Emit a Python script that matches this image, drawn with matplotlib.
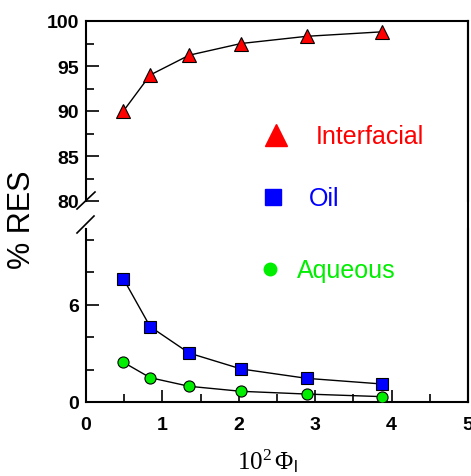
import matplotlib
matplotlib.use("Agg")
import matplotlib.pyplot as plt
from matplotlib.lines import Line2D
from matplotlib.ticker import MultipleLocator

# ---- data ----
phi = [0.49, 0.84, 1.35, 2.03, 2.89, 3.88]
interfacial = [90.0, 94.0, 96.2, 97.5, 98.3, 98.8]
oil = [7.6, 4.65, 3.02, 2.04, 1.46, 1.11]
aqueous = [2.45, 1.5, 0.97, 0.66, 0.49, 0.33]
legend_labels = ["Interfacial", "Oil", "Aqueous"]
colors = ["#ff0000", "#0000ff", "#00ee00"]

plt.rcParams['font.family'] = ['Liberation Sans', 'DejaVu Sans']
plt.rcParams['mathtext.fontset'] = 'custom'
plt.rcParams['mathtext.rm'] = 'Liberation Serif'
plt.rcParams['mathtext.it'] = 'Liberation Serif:italic'
plt.rcParams['mathtext.sf'] = 'Liberation Sans'

W, H = 471, 477
fig = plt.figure(figsize=(W / 100, H / 100), dpi=100)

def fx(px):
    return px / W

def fy(py):
    return 1 - py / H

left, right = 86, 468
top_t, top_b = 22, 202
bot_t, bot_b = 230, 403

ax_top = fig.add_axes([fx(left), fy(top_b), fx(right - left), (top_b - top_t) / H])
ax_bot = fig.add_axes([fx(left), fy(bot_b), fx(right - left), (bot_b - bot_t) / H])

lw_spine = 1.5
for ax in (ax_top, ax_bot):
    for s in ax.spines.values():
        s.set_linewidth(lw_spine)
    ax.set_xlim(0, 5)

TL = 14

# top panel
ax_top.plot(phi, interfacial, color='black', lw=1.0, marker='^', ms=10.5,
            mfc=colors[0], mec='black', mew=0.8, zorder=3)
ax_top.set_ylim(80, 100)
ax_top.spines['bottom'].set_visible(False)
ax_top.yaxis.set_major_locator(MultipleLocator(5))
ax_top.yaxis.set_minor_locator(MultipleLocator(2.5))
ax_top.tick_params(axis='y', which='major', direction='in', length=9, width=1.2,
                   labelsize=TL, pad=5, right=False)
ax_top.tick_params(axis='y', which='minor', direction='in', length=6, width=1.2, right=False)
ax_top.tick_params(axis='x', which='both', bottom=False, top=False, labelbottom=False)
for lab in ax_top.get_yticklabels():
    lab.set_fontweight('bold')

# bottom panel
ax_bot.plot(phi, oil, color='black', lw=1.0, marker='s', ms=8.5,
            mfc=colors[1], mec='black', mew=0.8, zorder=3)
ax_bot.plot(phi, aqueous, color='black', lw=1.0, marker='o', ms=8,
            mfc=colors[2], mec='black', mew=0.8, zorder=3)
ax_bot.set_ylim(0, 10.68)
ax_bot.spines['top'].set_visible(False)
ax_bot.yaxis.set_major_locator(MultipleLocator(6))
ax_bot.yaxis.set_minor_locator(MultipleLocator(2))
ax_bot.xaxis.set_major_locator(MultipleLocator(1))
ax_bot.xaxis.set_minor_locator(MultipleLocator(0.5))
ax_bot.tick_params(axis='y', which='major', direction='in', length=9, width=1.2,
                   labelsize=TL, pad=5, right=False)
ax_bot.tick_params(axis='y', which='minor', direction='in', length=6, width=1.2, right=False)
ax_bot.tick_params(axis='x', which='major', direction='in', length=9, width=1.2,
                   labelsize=TL, pad=10, top=False)
ax_bot.tick_params(axis='x', which='minor', direction='in', length=6, width=1.2, top=False)
for lab in ax_bot.get_yticklabels() + ax_bot.get_xticklabels():
    lab.set_fontweight('bold')

# continuous right border through the gap
fig.add_artist(Line2D([fx(right), fx(right)], [fy(top_t), fy(bot_b)],
                      transform=fig.transFigure, color='black', lw=lw_spine))
# break marks on the left axis
fig.add_artist(Line2D([fx(77), fx(95)], [fy(210), fy(193)],
                      transform=fig.transFigure, color='black', lw=1.2))
fig.add_artist(Line2D([fx(77), fx(94)], [fy(234), fy(217)],
                      transform=fig.transFigure, color='black', lw=1.2))

# legend-like annotations
fig.add_artist(Line2D([fx(276)], [fy(136)], transform=fig.transFigure, marker='^',
                      ms=16, color=colors[0], mec=colors[0], ls='none'))
fig.text(fx(316), fy(137), legend_labels[0], color=colors[0], fontsize=18,
         ha='left', va='center')
fig.add_artist(Line2D([fx(273)], [fy(198)], transform=fig.transFigure, marker='s',
                      ms=11, color=colors[1], mec=colors[1], ls='none'))
fig.text(fx(309), fy(199), legend_labels[1], color=colors[1], fontsize=18,
         ha='left', va='center')
fig.add_artist(Line2D([fx(270)], [fy(270)], transform=fig.transFigure, marker='o',
                      ms=9, color=colors[2], mec=colors[2], ls='none'))
fig.text(fx(297), fy(271), legend_labels[2], color=colors[2], fontsize=18,
         ha='left', va='center')

# axis labels
fig.text(fx(22), fy(220), "% RES", rotation=90, fontsize=22, ha='center', va='center')
fig.text(fx(267), fy(461), r"$\mathrm{10}^\mathrm{2}\,\mathrm{\Phi}_\mathsf{l}$",
         fontsize=18, ha='center', va='center')

fig.savefig("out.png", dpi=100)
